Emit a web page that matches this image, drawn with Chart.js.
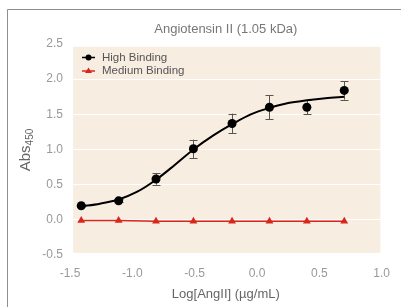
<!DOCTYPE html>
<html>
<head>
<meta charset="utf-8">
<script src="https://cdn.jsdelivr.net/npm/chart.js@4.4.1/dist/chart.umd.min.js"></script>
<style>
html,body{margin:0;padding:0;background:#fff;}
#wrap{position:relative;width:401px;height:307px;}
</style>
</head>
<body>
<div id="wrap"><canvas id="c" width="401" height="307"></canvas></div>
<script>
// ---- data ----
const chartTitle = "Angiotensin II (1.05 kDa)";
const xTitle = "Log[AngII] (\u00b5g/mL)";
const yTitleMain = "Abs";
const yTitleSub = "450";
const seriesNames = ["High Binding", "Medium Binding"];
const logConc = [-1.41, -1.11, -0.81, -0.51, -0.20, 0.10, 0.40, 0.70];
const highBinding = [0.20, 0.27, 0.58, 1.01, 1.37, 1.60, 1.60, 1.84];
const highError = [0.02, 0.02, 0.08, 0.13, 0.14, 0.17, 0.10, 0.13];
const mediumBinding = [-0.01, -0.01, -0.02, -0.02, -0.02, -0.02, -0.02, -0.02];
const fitX = [-1.41, -1.26, -1.11, -0.96, -0.81, -0.66, -0.51, -0.35, -0.20, -0.05, 0.10, 0.25, 0.40, 0.55, 0.70];
const fitY = [0.19, 0.23, 0.29, 0.40, 0.57, 0.78, 1.00, 1.20, 1.36, 1.50, 1.59, 1.66, 1.70, 1.73, 1.75];
const xTicks = [-1.5, -1.0, -0.5, 0.0, 0.5, 1.0];
const yTicks = [-0.5, 0.0, 0.5, 1.0, 1.5, 2.0, 2.5];

const FONT = "'Liberation Sans', Arial, sans-serif";
const RED = "#d8261c";

const pts = (xs, ys) => xs.map((x, i) => ({x: x, y: ys[i]}));

const framePlugin = {
  id: 'frame',
  beforeDraw(chart) {
    const ctx = chart.ctx, a = chart.chartArea;
    ctx.save();
    ctx.fillStyle = '#ffffff';
    ctx.fillRect(0, 0, chart.width, chart.height);
    ctx.strokeStyle = '#8e8e8e';
    ctx.lineWidth = 1;
    ctx.beginPath();
    ctx.moveTo(7.5, chart.height + 2);
    ctx.lineTo(7.5, 9.5);
    ctx.lineTo(chart.width + 2, 9.5);
    ctx.stroke();
    const ys = chart.scales.y;
    const top = ys.getPixelForValue(2.46), bot = ys.getPixelForValue(-0.47);
    const xs = chart.scales.x;
    const l = xs.getPixelForValue(-1.475), r = xs.getPixelForValue(0.99);
    ctx.fillStyle = '#f7ede1';
    ctx.fillRect(l, top, r - l, bot - top);
    ctx.restore();
  },
  beforeDatasetsDraw(chart) {
    const ctx = chart.ctx, xs = chart.scales.x, ys = chart.scales.y;
    ctx.save();
    ctx.strokeStyle = '#555';
    ctx.lineWidth = 1;
    logConc.forEach((x, i) => {
      const px = Math.round(xs.getPixelForValue(x)) + 0.5;
      const y1 = ys.getPixelForValue(highBinding[i] + highError[i]);
      const y2 = ys.getPixelForValue(highBinding[i] - highError[i]);
      ctx.beginPath();
      ctx.moveTo(px, y1); ctx.lineTo(px, y2);
      ctx.moveTo(px - 4, Math.round(y1) + 0.5); ctx.lineTo(px + 4, Math.round(y1) + 0.5);
      ctx.moveTo(px - 4, Math.round(y2) + 0.5); ctx.lineTo(px + 4, Math.round(y2) + 0.5);
      ctx.stroke();
    });
    ctx.restore();
  },
  afterDraw(chart) {
    const ctx = chart.ctx, a = chart.chartArea;
    ctx.save();
    // title
    ctx.fillStyle = '#777';
    ctx.font = "13px " + FONT;
    ctx.textAlign = 'center';
    ctx.textBaseline = 'middle';
    ctx.fillText(chartTitle, (a.left + a.right) / 2, 29);
    // x title
    ctx.fillStyle = '#666';
    ctx.font = "13px " + FONT;
    ctx.fillText(xTitle, (a.left + a.right) / 2, 294);
    // y title with subscript
    ctx.translate(25, 150);
    ctx.rotate(-Math.PI / 2);
    ctx.font = "15px " + FONT;
    const w1 = ctx.measureText(yTitleMain).width;
    ctx.font = "10px " + FONT;
    const w2 = ctx.measureText(yTitleSub).width;
    const start = -(w1 + w2) / 2;
    ctx.textAlign = 'left';
    ctx.textBaseline = 'alphabetic';
    ctx.font = "15px " + FONT;
    ctx.fillText(yTitleMain, start, 5);
    ctx.font = "10px " + FONT;
    ctx.fillText(yTitleSub, start + w1, 8);
    ctx.restore();
    // legend
    ctx.save();
    const items = [
      {name: seriesNames[0], color: '#000', style: 'circle', y: 57.5},
      {name: seriesNames[1], color: RED, style: 'triangle', y: 71}
    ];
    items.forEach(it => {
      ctx.strokeStyle = it.color;
      ctx.fillStyle = it.color;
      ctx.lineWidth = 1.5;
      ctx.beginPath();
      ctx.moveTo(82, it.y); ctx.lineTo(95, it.y);
      ctx.stroke();
      ctx.beginPath();
      if (it.style === 'circle') {
        ctx.arc(88.5, it.y, 3, 0, Math.PI * 2);
      } else {
        ctx.moveTo(88.5, it.y - 3.5); ctx.lineTo(92, it.y + 2); ctx.lineTo(85, it.y + 2); ctx.closePath();
      }
      ctx.fill();
      ctx.fillStyle = '#555';
      ctx.font = "11.5px " + FONT;
      ctx.textAlign = 'left';
      ctx.textBaseline = 'middle';
      ctx.fillText(it.name, 102, it.y);
    });
    ctx.restore();
  }
};

new Chart(document.getElementById('c'), {
  type: 'line',
  data: {
    datasets: [
      {
        label: 'fit',
        data: pts(fitX, fitY),
        borderColor: '#000',
        borderWidth: 2,
        pointRadius: 0,
        cubicInterpolationMode: 'monotone',
        fill: false,
        order: 2
      },
      {
        label: seriesNames[0],
        data: pts(logConc, highBinding),
        showLine: false,
        pointRadius: 4.5,
        pointBackgroundColor: '#000',
        pointBorderColor: '#000',
        pointBorderWidth: 0,
        order: 1
      },
      {
        label: seriesNames[1],
        data: pts(logConc, mediumBinding),
        borderColor: RED,
        borderWidth: 1.5,
        pointStyle: 'triangle',
        pointRadius: 4.5,
        pointBackgroundColor: RED,
        pointBorderColor: RED,
        pointBorderWidth: 0,
        tension: 0,
        order: 0
      }
    ]
  },
  options: {
    responsive: false,
    animation: false,
    devicePixelRatio: 1,
    layout: {padding: {left: 0, right: 14, top: 44, bottom: 0}},
    plugins: {legend: {display: false}, title: {display: false}, tooltip: {enabled: false}},
    scales: {
      x: {
        type: 'linear',
        min: -1.5, max: 1.0,
        afterBuildTicks: s => { s.ticks = xTicks.map(v => ({value: v})); },
        afterFit: s => { s.height = 52; },
        grid: {display: false, drawTicks: false},
        border: {display: false},
        ticks: {
          padding: 11,
          color: '#999',
          font: {family: FONT, size: 12},
          callback: v => v.toFixed(1),
          maxRotation: 0
        }
      },
      y: {
        type: 'linear',
        min: -0.5, max: 2.5,
        afterBuildTicks: s => { s.ticks = yTicks.map(v => ({value: v})); },
        afterFit: s => { s.width = 70; },
        grid: {color: '#ffffff', lineWidth: 1, drawTicks: false},
        border: {display: false},
        ticks: {
          padding: 7,
          color: '#999',
          font: {family: FONT, size: 12},
          callback: v => v.toFixed(1)
        }
      }
    }
  },
  plugins: [framePlugin]
});
</script>
</body>
</html>
